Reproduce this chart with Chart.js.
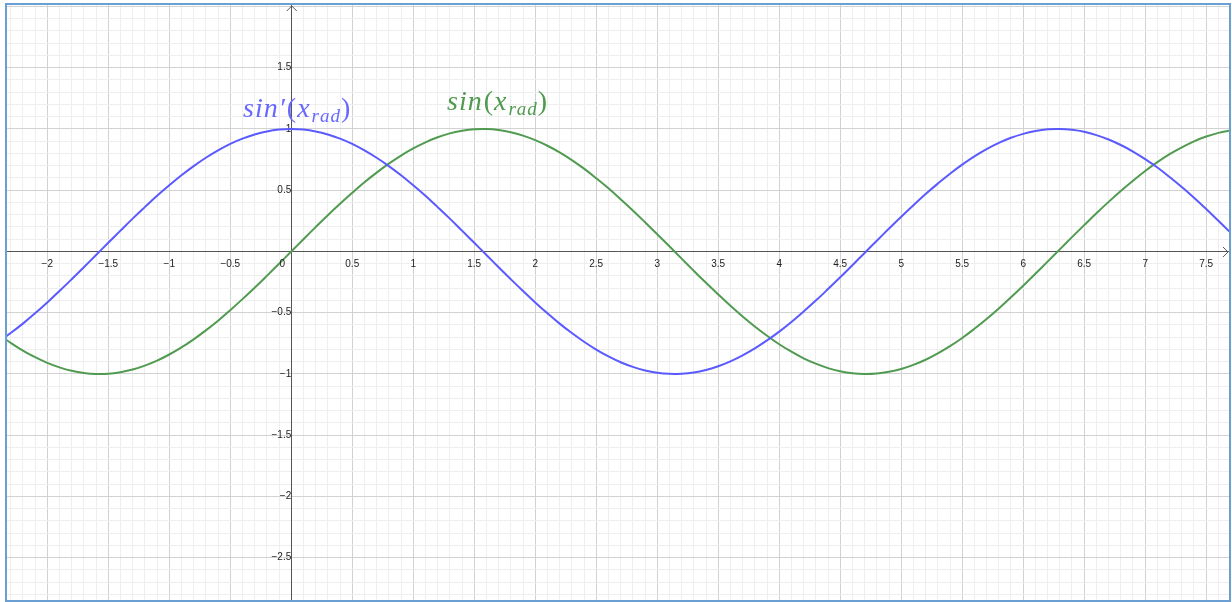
<!DOCTYPE html>
<html>
<head>
<meta charset="utf-8">
<script src="https://cdn.jsdelivr.net/npm/chart.js@4.4.0/dist/chart.umd.min.js"></script>
<style>
  html, body { margin: 0; padding: 0; background: #fff; }
  canvas { display: block; }
</style>
</head>
<body>
<canvas id="graph" width="1232" height="602"></canvas>
<script>
// sample positions (radians)
const xValues = [
  -2.4, -2.3, -2.2, -2.1, -2.0, -1.9, -1.8, -1.7, -1.6, -1.5, -1.4, -1.3,
  -1.2, -1.1, -1.0, -0.9, -0.8, -0.7, -0.6, -0.5, -0.4, -0.3, -0.2, -0.1,
  0, 0.1, 0.2, 0.3, 0.4, 0.5, 0.6, 0.7, 0.8, 0.9, 1.0, 1.1, 1.2, 1.3, 1.4,
  1.5, 1.6, 1.7, 1.8, 1.9, 2.0, 2.1, 2.2, 2.3, 2.4, 2.5, 2.6, 2.7, 2.8, 2.9,
  3.0, 3.1, 3.2, 3.3, 3.4, 3.5, 3.6, 3.7, 3.8, 3.9, 4.0, 4.1, 4.2, 4.3, 4.4,
  4.5, 4.6, 4.7, 4.8, 4.9, 5.0, 5.1, 5.2, 5.3, 5.4, 5.5, 5.6, 5.7, 5.8, 5.9,
  6.0, 6.1, 6.2, 6.3, 6.4, 6.5, 6.6, 6.7, 6.8, 6.9, 7.0, 7.1, 7.2, 7.3, 7.4,
  7.5, 7.6, 7.7, 7.8,
]

// green curve, sin(x_rad)
const sinValues = [
  -0.676, -0.746, -0.809, -0.863, -0.909, -0.946, -0.974, -0.992, -1.0, -0.998, -0.985, -0.964,
  -0.932, -0.891, -0.841, -0.783, -0.717, -0.644, -0.565, -0.479, -0.389, -0.296, -0.199, -0.1,
  0, 0.1, 0.199, 0.296, 0.389, 0.479, 0.565, 0.644, 0.717, 0.783, 0.841, 0.891, 0.932, 0.964, 0.985,
  0.998, 1.0, 0.992, 0.974, 0.946, 0.909, 0.863, 0.809, 0.746, 0.676, 0.598, 0.516, 0.427, 0.335, 0.239,
  0.141, 0.042, -0.058, -0.158, -0.256, -0.351, -0.443, -0.53, -0.612, -0.688, -0.757, -0.818, -0.872, -0.916, -0.952,
  -0.978, -0.994, -1.0, -0.996, -0.982, -0.959, -0.926, -0.884, -0.832, -0.773, -0.706, -0.631, -0.551, -0.465, -0.374,
  -0.279, -0.182, -0.083, 0.017, 0.117, 0.215, 0.312, 0.405, 0.494, 0.578, 0.657, 0.729, 0.794, 0.85, 0.899,
  0.938, 0.968, 0.988, 0.999,
]

// blue curve, sin'(x_rad)
const cosValues = [
  -0.737, -0.666, -0.589, -0.505, -0.416, -0.323, -0.227, -0.129, -0.029, 0.071, 0.17, 0.268,
  0.362, 0.454, 0.54, 0.622, 0.697, 0.765, 0.825, 0.878, 0.921, 0.955, 0.98, 0.995,
  1.0, 0.995, 0.98, 0.955, 0.921, 0.878, 0.825, 0.765, 0.697, 0.622, 0.54, 0.454, 0.362, 0.268, 0.17,
  0.071, -0.029, -0.129, -0.227, -0.323, -0.416, -0.505, -0.589, -0.666, -0.737, -0.801, -0.857, -0.904, -0.942, -0.971,
  -0.99, -0.999, -0.998, -0.988, -0.967, -0.937, -0.897, -0.848, -0.791, -0.726, -0.654, -0.575, -0.49, -0.401, -0.307,
  -0.211, -0.112, -0.012, 0.088, 0.187, 0.284, 0.378, 0.469, 0.554, 0.635, 0.709, 0.776, 0.835, 0.886, 0.928,
  0.96, 0.983, 0.997, 1.0, 0.993, 0.977, 0.95, 0.914, 0.869, 0.816, 0.754, 0.685, 0.608, 0.526, 0.439,
  0.347, 0.251, 0.153, 0.054,
]

const seriesNames = ["sin'(x_rad)", "sin(x_rad)"]
const xLimits = [-2.33, 7.687]
const yLimits = [-2.845, 2.012]
const gridStep = 0.1
const labelStep = 0.5

const isMajor = v => Math.abs(v / labelStep - Math.round(v / labelStep)) < 1e-6
const fmt = v => String(Math.round(v * 10) / 10).replace("-", "\u2212")

const gridColor = ctx => {
  const v = ctx.tick ? ctx.tick.value : 0
  return isMajor(v) ? "#d2d2d2" : "#eeeeee"
}

// positioned axes still ask for label padding, which shrinks the plot
const noPadding = scale => {
  scale.paddingLeft = 0
  scale.paddingRight = 0
  scale.paddingTop = 0
  scale.paddingBottom = 0
}

// frame, arrows, the lone "0" and the two function names
const decorations = {
  id: "decorations",
  afterDraw(chart) {
    const { ctx, chartArea, scales } = chart
    const x0 = scales.x.getPixelForValue(0)
    const y0 = scales.y.getPixelForValue(0)
    ctx.save()

    ctx.strokeStyle = "#555"
    ctx.lineWidth = 1
    ctx.beginPath()
    ctx.moveTo(x0 - 4.5, chartArea.top + 6)
    ctx.lineTo(x0 + 0.5, chartArea.top + 1)
    ctx.lineTo(x0 + 5.5, chartArea.top + 6)
    ctx.moveTo(chartArea.right - 6, y0 - 4.5)
    ctx.lineTo(chartArea.right - 1, y0 + 0.5)
    ctx.lineTo(chartArea.right - 6, y0 + 5.5)
    ctx.stroke()

    ctx.fillStyle = "#222"
    ctx.font = '10px "Liberation Sans"'
    ctx.textBaseline = "top"
    ctx.textAlign = "center"
    ctx.fillText("0", x0 - 9, y0 + 8)

    const drawName = (parts, vx, vy, color) => {
      let px = scales.x.getPixelForValue(vx)
      const py = scales.y.getPixelForValue(vy)
      ctx.fillStyle = color
      ctx.textAlign = "left"
      ctx.textBaseline = "alphabetic"
      ctx.letterSpacing = "1px"
      parts.forEach(p => {
        ctx.font = p.font
        ctx.fillText(p.text, px, py + (p.dy || 0))
        px += ctx.measureText(p.text).width + (p.gap || 0)
      })
      ctx.letterSpacing = "0px"
    }
    const it = 'italic 28px "Liberation Serif"'
    const up = '28px "Liberation Serif"'
    const sub = 'italic 19px "Liberation Serif"'
    drawName([
      { text: "sin\u2032", font: it, gap: 1 },
      { text: "(", font: up },
      { text: "x", font: it, gap: 1 },
      { text: "rad", font: sub, dy: 5 },
      { text: ")", font: up },
    ], -0.395, 1.098, "#6868ff")
    drawName([
      { text: "sin", font: it, gap: 1 },
      { text: "(", font: up },
      { text: "x", font: it, gap: 1 },
      { text: "rad", font: sub, dy: 5 },
      { text: ")", font: up },
    ], 1.277, 1.155, "#4e9a4e")

    ctx.strokeStyle = "#6a9fd4"
    ctx.lineWidth = 2
    ctx.strokeRect(6, 4, 1224, 597)
    ctx.restore()
  },
}

new Chart(document.getElementById("graph"), {
  type: "line",
  data: {
    datasets: [
      {
        label: seriesNames[0],
        data: xValues.map((x, i) => ({ x: x, y: cosValues[i] })),
        borderColor: "#5a5aff",
        borderWidth: 2,
        pointRadius: 0,
        tension: 0.4,
      },
      {
        label: seriesNames[1],
        data: xValues.map((x, i) => ({ x: x, y: sinValues[i] })),
        borderColor: "#519b51",
        borderWidth: 2,
        pointRadius: 0,
        tension: 0.4,
      },
    ],
  },
  options: {
    responsive: false,
    animation: false,
    devicePixelRatio: 1,
    layout: { padding: { left: 7, top: 5, right: 3, bottom: 2 } },
    plugins: { legend: { display: false }, tooltip: { enabled: false } },
    scales: {
      x: {
        type: "linear",
        position: { y: 0 },
        min: xLimits[0],
        max: xLimits[1],
        afterFit: noPadding,
        grid: { color: gridColor, drawTicks: false, lineWidth: 1 },
        border: { display: true, color: "#555", width: 1 },
        ticks: {
          stepSize: gridStep,
          includeBounds: false,
          autoSkip: false,
          maxRotation: 0,
          minRotation: 0,
          padding: 7,
          color: "#222",
          font: { family: "Liberation Sans", size: 10 },
          callback: v => (isMajor(v) && Math.abs(v) > 1e-6 ? fmt(v) : ""),
        },
      },
      y: {
        type: "linear",
        position: { x: 0 },
        min: yLimits[0],
        max: yLimits[1],
        afterFit: noPadding,
        grid: { color: gridColor, drawTicks: false, lineWidth: 1 },
        border: { display: true, color: "#555", width: 1 },
        ticks: {
          stepSize: gridStep,
          includeBounds: false,
          autoSkip: false,
          padding: 5,
          color: "#222",
          font: { family: "Liberation Sans", size: 10 },
          callback: v => (isMajor(v) && Math.abs(v) > 1e-6 && v < 1.9 ? fmt(v) : ""),
        },
      },
    },
  },
  plugins: [decorations],
})
</script>
</body>
</html>
